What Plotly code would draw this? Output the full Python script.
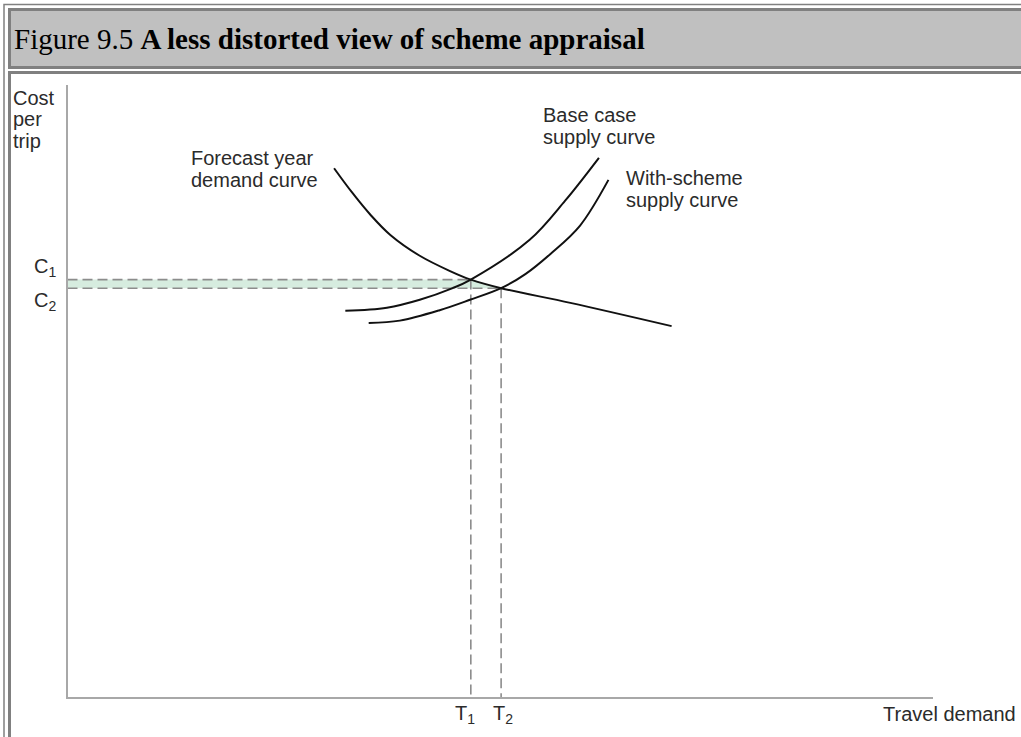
import plotly.graph_objects as go

# ---------------- data (chart units: demand 0-100, cost 0-100) ----------------
demand_x = [30.8, 32.9, 35.0, 37.3, 40.7, 44.2, 46.6, 50.1, 58.1, 69.8]
demand_y = [86.4, 82.4, 78.8, 75.5, 72.1, 69.6, 68.2, 66.8, 64.4, 60.6]

base_x = [32.1, 36.9, 40.7, 44.5, 46.6, 53.4, 57.5, 61.4]
base_y = [63.1, 63.6, 64.9, 66.8, 68.2, 74.7, 81.1, 88.1]

scheme_x = [34.8, 38.4, 43.0, 46.5, 50.1, 52.9, 55.8, 59.2, 62.5]
scheme_y = [61.1, 61.5, 63.2, 64.9, 66.8, 69.1, 72.4, 77.0, 84.5]

C1, C2 = 68.2, 66.8
T1, T2 = 46.6, 50.1

title_plain = "Figure 9.5 "
title_bold = "A less distorted view of scheme appraisal"
y_label_lines = ["Cost", "per", "trip"]
x_label = "Travel demand"
demand_label = ["Forecast year", "demand curve"]
base_label = ["Base case", "supply curve"]
scheme_label = ["With-scheme", "supply curve"]

# ---------------- geometry helpers ----------------
W, H = 1021, 737
def px(x):
    return x / W
def py(y):
    return 1 - y / H

AX_L, AX_R, AX_T, AX_B = 67.5, 933, 85, 697

TXT = dict(family="Liberation Sans, Arial, sans-serif", size=20, color="#2b2b2b")
DASH = dict(color="#8c8c8c", width=1.6, dash="10px,5px")

fig = go.Figure()

# green band between C1 and C2
fig.add_trace(go.Scatter(
    x=[0, T1, T2, 0, 0], y=[C1, C1, C2, C2, C1],
    fill="toself", fillcolor="#d6ecdf", line=dict(width=0),
    mode="lines", hoverinfo="skip", showlegend=False))

# dashed guide lines
fig.add_trace(go.Scatter(x=[0, T1], y=[C1, C1], mode="lines", line=DASH, showlegend=False))
fig.add_trace(go.Scatter(x=[0, T2], y=[C2, C2], mode="lines", line=DASH, showlegend=False))
fig.add_trace(go.Scatter(x=[T1, T1], y=[C1, 0], mode="lines", line=DASH, showlegend=False))
fig.add_trace(go.Scatter(x=[T2, T2], y=[C2, 0], mode="lines", line=DASH, showlegend=False))

# curves
CURVE = dict(color="#111111", width=2, shape="spline", smoothing=1.0)
fig.add_trace(go.Scatter(x=demand_x, y=demand_y, mode="lines", line=CURVE, showlegend=False))
fig.add_trace(go.Scatter(x=base_x, y=base_y, mode="lines", line=CURVE, showlegend=False))
fig.add_trace(go.Scatter(x=scheme_x, y=scheme_y, mode="lines", line=CURVE, showlegend=False))

# ---------------- page / table frame ----------------
shapes = [
    dict(type="rect", xref="paper", yref="paper", x0=px(4), x1=px(1060), y0=py(4.5), y1=py(800),
         line=dict(color="#808080", width=1.5), fillcolor="white", layer="below"),
    dict(type="rect", xref="paper", yref="paper", x0=px(9.5), x1=px(1060), y0=py(9.5), y1=py(67.5),
         line=dict(color="#808080", width=3), fillcolor="#c0c0c0", layer="below"),
    dict(type="rect", xref="paper", yref="paper", x0=px(9.5), x1=px(1060), y0=py(72.5), y1=py(800),
         line=dict(color="#808080", width=3), fillcolor="white", layer="below"),
]

annotations = [
    dict(text=title_plain + "<b>" + title_bold + "</b>", x=px(12), y=py(39),
         xref="paper", yref="paper",
         xanchor="left", yanchor="middle", showarrow=False,
         font=dict(family="Liberation Serif, Times New Roman, serif", size=29, color="#000000")),
]

def lab(text, x, y, xanchor="left"):
    annotations.append(dict(text=text, x=px(x), y=py(y), xref="paper", yref="paper",
                            xanchor=xanchor, yanchor="middle", showarrow=False, font=TXT))

for t, yy in zip(y_label_lines, [98, 119, 141]):
    lab(t, 11, yy)
for t, yy in zip(demand_label, [158, 180]):
    lab(t, 189, yy)
for t, yy in zip(base_label, [115, 137]):
    lab(t, 541, yy)
for t, yy in zip(scheme_label, [178, 200]):
    lab(t, 624, yy)
lab(x_label, 1018, 714, xanchor="right")

# C / T labels tied to data positions
annotations.append(dict(text="C<sub>1</sub>", x=0, y=C1, xref="x", yref="y", xanchor="right",
                        yanchor="middle", xshift=-10, yshift=12, showarrow=False, font=TXT))
annotations.append(dict(text="C<sub>2</sub>", x=0, y=C2, xref="x", yref="y", xanchor="right",
                        yanchor="middle", xshift=-10, yshift=-13, showarrow=False, font=TXT))
annotations.append(dict(text="T<sub>1</sub>", x=T1, y=0, xref="x", yref="y", xanchor="center",
                        yanchor="middle", xshift=-6, yshift=-17, showarrow=False, font=TXT))
annotations.append(dict(text="T<sub>2</sub>", x=T2, y=0, xref="x", yref="y", xanchor="center",
                        yanchor="middle", xshift=2, yshift=-17, showarrow=False, font=TXT))

AXIS = dict(showline=True, linecolor="#a8a8a8", linewidth=2, showgrid=False, zeroline=False,
            showticklabels=False, ticks="", range=[0, 100], fixedrange=True)

fig.update_layout(
    width=W, height=H, margin=dict(l=0, r=0, t=0, b=0),
    paper_bgcolor="white", plot_bgcolor="rgba(0,0,0,0)",
    xaxis=dict(domain=[px(AX_L), px(AX_R)], **AXIS),
    yaxis=dict(domain=[py(AX_B), py(AX_T)], **AXIS),
    shapes=shapes, annotations=annotations, showlegend=False,
)

fig.write_html(
    "out.html",
    config={"displayModeBar": False},
    post_script="document.body.style.margin='0px';document.body.style.overflow='hidden';",
)
